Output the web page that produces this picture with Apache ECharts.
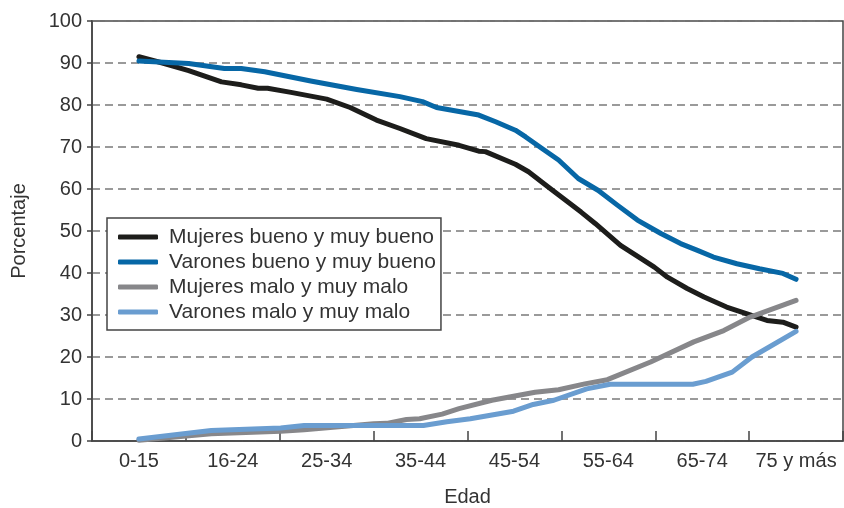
<!DOCTYPE html>
<html>
<head>
<meta charset="utf-8">
<script src="https://cdn.jsdelivr.net/npm/echarts@6/dist/echarts.min.js"></script>
<style>
  html, body { margin: 0; padding: 0; background: #fff; }
  #main { width: 844px; height: 508px; }
</style>
</head>
<body>
<div id="main"></div>
<script>
// grupos de edad (eje X)
const edades = ['0-15', '16-24', '25-34', '35-44', '45-54', '55-64', '65-74', '75 y más']
const seriesNames = [
  'Mujeres bueno y muy bueno',
  'Varones bueno y muy bueno',
  'Mujeres malo y muy malo',
  'Varones malo y muy malo'
]

// posicion en grupos de edad (0 = 0-15 ... 7 = 75 y más) y porcentaje
const mujeresBuenoX = [0, 0.25, 0.53, 0.88, 1.09, 1.27, 1.37, 1.62, 2.0, 2.25, 2.53, 2.78, 3.06, 3.41, 3.62, 3.69, 4.01, 4.15, 4.36, 4.71, 4.86, 5.13, 5.35, 5.49, 5.63, 5.84, 6.02, 6.26, 6.47, 6.69, 6.86, 7.0]
const mujeresBueno = [91.5, 90.0, 88.2, 85.5, 84.8, 84.0, 84.0, 83.0, 81.4, 79.4, 76.4, 74.4, 72.0, 70.4, 69.0, 68.9, 65.9, 64.1, 60.5, 54.5, 51.8, 46.6, 43.4, 41.4, 39.0, 36.3, 34.3, 31.9, 30.3, 28.7, 28.3, 27.1]

const varonesBuenoX = [0, 0.53, 0.91, 1.09, 1.34, 1.83, 2.32, 2.78, 3.02, 3.17, 3.62, 3.8, 4.01, 4.12, 4.29, 4.47, 4.68, 4.89, 5.1, 5.31, 5.56, 5.77, 5.95, 6.12, 6.37, 6.61, 6.86, 7.0]
const varonesBueno = [90.5, 89.9, 88.7, 88.7, 87.9, 85.7, 83.7, 82.0, 80.8, 79.4, 77.6, 76.0, 74.0, 72.4, 69.7, 66.9, 62.5, 59.7, 56.1, 52.6, 49.4, 47.0, 45.4, 43.8, 42.2, 41.0, 39.9, 38.5]

const mujeresMaloX = [0, 0.77, 1.51, 1.76, 2.5, 2.64, 2.85, 2.99, 3.23, 3.41, 3.76, 4.22, 4.47, 4.75, 4.99, 5.45, 5.91, 6.23, 6.51, 7.0]
const mujeresMalo = [0.2, 1.7, 2.3, 2.7, 4.1, 4.2, 5.1, 5.3, 6.4, 7.7, 9.7, 11.6, 12.2, 13.6, 14.6, 18.8, 23.6, 26.3, 29.5, 33.5]

const varonesMaloX = [0, 0.77, 1.51, 1.76, 2.5, 3.03, 3.28, 3.53, 3.99, 4.2, 4.42, 4.77, 5.02, 5.9, 6.04, 6.32, 6.53, 7.0]
const varonesMalo = [0.5, 2.5, 3.1, 3.7, 3.7, 3.7, 4.6, 5.3, 7.1, 8.7, 9.7, 12.4, 13.5, 13.5, 14.2, 16.4, 20.0, 26.1]

const colores = ['#1d1d1b', '#0767a6', '#87878a', '#6a9dd0']
const fuente = 'Liberation Sans, Arial, sans-serif'

function pares(xs, ys) {
  return xs.map((x, i) => [x, ys[i]])
}

const myChart = echarts.init(document.getElementById('main'))

const option = {
  animation: false,
  color: colores,
  grid: {
    left: 92,
    right: 1,
    top: 21,
    bottom: 67,
    outerBoundsMode: 'none',
    containLabel: false,
    show: true,
    borderColor: '#444',
    borderWidth: 1.5,
    backgroundColor: 'transparent'
  },
  legend: {
    orient: 'vertical',
    left: 107,
    top: 218,
    padding: [7, 5, 6, 11],
    backgroundColor: '#fff',
    borderColor: '#444',
    borderWidth: 1.5,
    borderRadius: 0,
    icon: 'roundRect',
    itemWidth: 40,
    itemHeight: 5,
    itemGap: 1,
    textStyle: {
      fontFamily: fuente,
      fontSize: 21,
      color: '#333',
      lineHeight: 24,
      padding: [0, 0, 0, 6]
    },
    data: seriesNames
  },
  xAxis: [
    {
      type: 'category',
      data: edades,
      boundaryGap: true,
      name: 'Edad',
      nameLocation: 'middle',
      nameGap: 46,
      nameTextStyle: { fontFamily: fuente, fontSize: 20, color: '#333' },
      axisLine: { lineStyle: { color: '#444', width: 1.5 } },
      axisTick: { show: true, inside: true, alignWithLabel: false, length: 10, lineStyle: { color: '#444', width: 1.5 } },
      axisLabel: { interval: 0, fontFamily: fuente, fontSize: 20, color: '#333', margin: 10 },
      splitLine: { show: false }
    },
    {
      type: 'value',
      min: -0.5,
      max: 7.5,
      show: false
    }
  ],
  yAxis: {
    type: 'value',
    min: 0,
    max: 100,
    interval: 10,
    name: 'Porcentaje',
    nameLocation: 'middle',
    nameGap: 63,
    nameTextStyle: { fontFamily: fuente, fontSize: 20, color: '#333' },
    axisLine: { show: true, onZero: false, lineStyle: { color: '#444', width: 1.5 } },
    axisTick: { show: true, length: 5, lineStyle: { color: '#444', width: 1.5 } },
    axisLabel: { fontFamily: fuente, fontSize: 20, color: '#333', margin: 10 },
    splitLine: { lineStyle: { color: '#7a7a7a', type: [8, 5], width: 1.5 } }
  },
  series: [
    [mujeresBuenoX, mujeresBueno],
    [varonesBuenoX, varonesBueno],
    [mujeresMaloX, mujeresMalo],
    [varonesMaloX, varonesMalo]
  ].map((d, i) => ({
    name: seriesNames[i],
    type: 'line',
    xAxisIndex: 1,
    data: pares(d[0], d[1]),
    showSymbol: false,
    symbol: 'none',
    lineStyle: { width: 5, color: colores[i], cap: 'round', join: 'round' },
    itemStyle: { color: colores[i] }
  }))
}

option && myChart.setOption(option)
</script>
</body>
</html>
